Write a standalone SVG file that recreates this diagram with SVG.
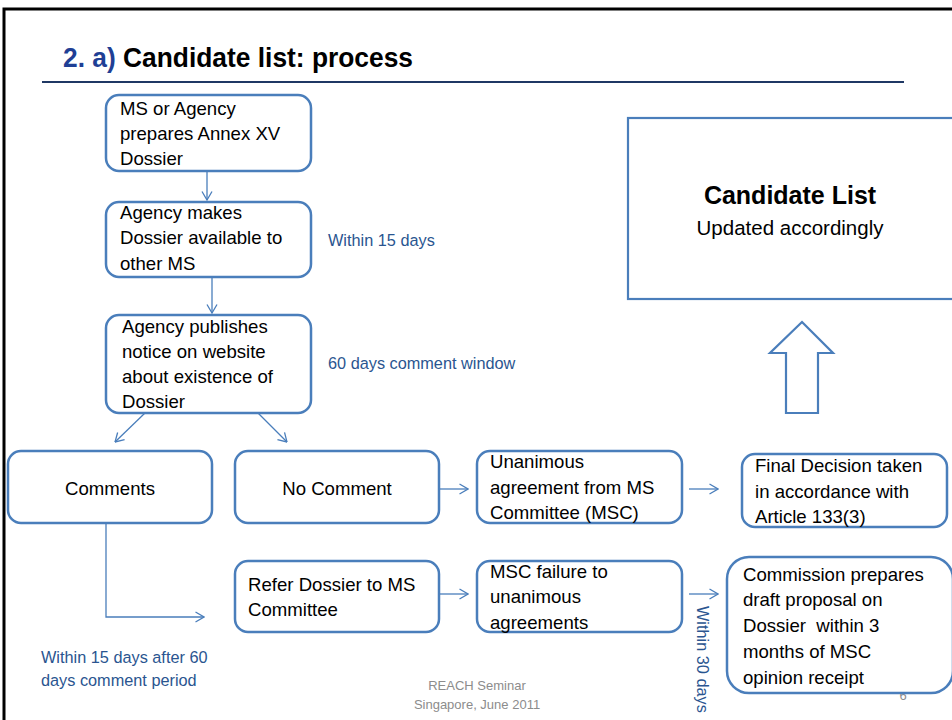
<svg xmlns="http://www.w3.org/2000/svg" width="952" height="720" viewBox="0 0 952 720">
<style>
.box{fill:#fff;stroke:#4a7ebb;stroke-width:2.5}
.t{font-family:"Liberation Sans",Arial,sans-serif;font-size:18.6px;fill:#000}
.lbl{font-family:"Liberation Sans",Arial,sans-serif;font-size:16.3px;fill:#2a5590}
.con{fill:none;stroke:#4a7ebb;stroke-width:1.3}
.foot{font-family:"Liberation Sans",Arial,sans-serif;font-size:13px;fill:#8c8c8c}
</style>
<defs>
<marker id="ah" viewBox="0 0 10 12" refX="9.5" refY="6" markerWidth="10" markerHeight="12" orient="auto" markerUnits="userSpaceOnUse">
<path d="M1,1 L9.5,6 L1,11" fill="none" stroke="#4a7ebb" stroke-width="1.3"/>
</marker>
</defs>
<rect width="952" height="720" fill="#fff"/>
<path d="M4,720 L4,9 L952,9" fill="none" stroke="#000" stroke-width="3"/>
<g id="title">
<text x="63" y="67" font-family="'Liberation Sans',Arial,sans-serif" font-size="27" font-weight="bold" textLength="350" lengthAdjust="spacingAndGlyphs"><tspan fill="#1f3f95">2. a)</tspan><tspan fill="#000"> Candidate list: process</tspan></text>
<line x1="42" y1="82" x2="904" y2="82" stroke="#1f3864" stroke-width="2"/>
</g>
<g id="footer">
<text class="foot" x="477" y="690" text-anchor="middle">REACH Seminar</text>
<text class="foot" x="477" y="709" text-anchor="middle">Singapore, June 2011</text>
<text class="foot" x="903" y="700" text-anchor="middle">6</text>
</g>
<g id="connectors">
<path class="con" d="M207,171 L207,200" marker-end="url(#ah)"/>
<path class="con" d="M212,277 L212,313" marker-end="url(#ah)"/>
<path class="con" d="M145,413 L115,442" marker-end="url(#ah)"/>
<path class="con" d="M258,413 L287,442" marker-end="url(#ah)"/>
<path class="con" d="M439,489 L468,489" marker-end="url(#ah)"/>
<path class="con" d="M106,523 L106,617 L204,617" marker-end="url(#ah)"/>
<path class="con" d="M439,594 L468,594" marker-end="url(#ah)"/>
<path class="con" d="M689,489 L718,489" marker-end="url(#ah)"/>
<path class="con" d="M689,594 L718,594" marker-end="url(#ah)"/>
<polygon id="block-arrow" points="802,322 833,353 818,353 818,413 786,413 786,353 770,353" fill="#fff" stroke="#4a7ebb" stroke-width="2.2"/>
</g>
<g id="n1">
<rect class="box" x="106" y="95" width="205" height="76" rx="13"/>
<text class="t" x="120" y="115">MS or Agency</text>
<text class="t" x="120" y="140">prepares Annex XV</text>
<text class="t" x="120" y="165">Dossier</text>
</g>
<g id="n2">
<rect class="box" x="106" y="202" width="205" height="75" rx="13"/>
<text class="t" x="120" y="219">Agency makes</text>
<text class="t" x="120" y="244">Dossier available to</text>
<text class="t" x="120" y="270">other MS</text>
</g>
<g id="n3">
<rect class="box" x="106" y="315" width="205" height="98" rx="13"/>
<text class="t" x="122" y="333">Agency publishes</text>
<text class="t" x="122" y="358">notice on website</text>
<text class="t" x="122" y="383">about existence of</text>
<text class="t" x="122" y="408">Dossier</text>
</g>
<g id="lbl1"><text class="lbl" x="328" y="246">Within 15 days</text></g>
<g id="lbl2"><text class="lbl" x="328" y="369">60 days comment window</text></g>
<g id="candidate">
<rect x="628" y="118" width="330" height="181" fill="#fff" stroke="#4a7ebb" stroke-width="2.2"/>
<text x="790" y="204" text-anchor="middle" font-family="'Liberation Sans',Arial,sans-serif" font-size="25" font-weight="bold">Candidate List</text>
<text x="790" y="235" text-anchor="middle" font-family="'Liberation Sans',Arial,sans-serif" font-size="20.5">Updated accordingly</text>
</g>
<g id="comments">
<rect class="box" x="8" y="451" width="204" height="72" rx="13"/>
<text class="t" x="110" y="495" text-anchor="middle">Comments</text>
</g>
<g id="nocomment">
<rect class="box" x="235" y="451" width="204" height="72" rx="13"/>
<text class="t" x="337" y="495" text-anchor="middle">No Comment</text>
</g>
<g id="unanimous">
<rect class="box" x="477" y="451" width="205" height="72" rx="13"/>
<text class="t" x="490" y="468">Unanimous</text>
<text class="t" x="490" y="494">agreement from MS</text>
<text class="t" x="490" y="519">Committee (MSC)</text>
</g>
<g id="final">
<rect class="box" x="742" y="454" width="205" height="73" rx="13"/>
<text class="t" x="755" y="472">Final Decision taken</text>
<text class="t" x="755" y="498">in accordance with</text>
<text class="t" x="755" y="523">Article 133(3)</text>
</g>
<g id="refer">
<rect class="box" x="235" y="561" width="204" height="71" rx="13"/>
<text class="t" x="248" y="591">Refer Dossier to MS</text>
<text class="t" x="248" y="616">Committee</text>
</g>
<g id="failure">
<rect class="box" x="477" y="561" width="205" height="71" rx="13"/>
<text class="t" x="490" y="578">MSC failure to</text>
<text class="t" x="490" y="603">unanimous</text>
<text class="t" x="490" y="629">agreements</text>
</g>
<g id="lbl3"><text class="lbl" transform="translate(697,606) rotate(90)">Within 30 days</text></g>
<g id="commission">
<rect class="box" x="727" y="557" width="226" height="136" rx="22"/>
<text class="t" x="743" y="581">Commission prepares</text>
<text class="t" x="743" y="606">draft proposal on</text>
<text class="t" x="743" y="632" xml:space="preserve">Dossier  within 3</text>
<text class="t" x="743" y="658">months of MSC</text>
<text class="t" x="743" y="684">opinion receipt</text>
</g>
<g id="lbl4">
<text class="lbl" x="41" y="663">Within 15 days after 60</text>
<text class="lbl" x="41" y="686">days comment period</text>
</g>
</svg>
